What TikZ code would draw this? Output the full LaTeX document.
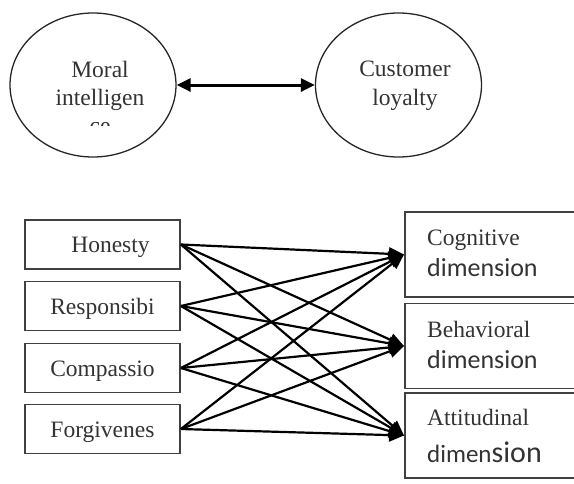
\documentclass[tikz,border=0pt]{standalone}
\usepackage{fontspec}
\setmainfont{Liberation Serif}
\newfontfamily\calibri{Carlito}
\usetikzlibrary{arrows.meta, shapes.geometric, positioning}

\begin{document}
\begin{tikzpicture}[x=1pt, y=-1pt,
  oval/.style={draw=black!85, line width=1.3pt, ellipse, minimum width=166pt, minimum height=144pt, inner sep=0pt},
  factor/.style={draw=black!75, line width=1.8pt, minimum width=155pt, minimum height=49pt, inner sep=0pt, text height=16pt, text depth=0pt},
  dimbox/.style={draw=black!75, line width=1.8pt, minimum width=220pt, minimum height=85pt, anchor=west, inner sep=0pt},
  txt/.style={anchor=base, text=black!80, inner sep=0pt, font=\fontsize{23.5}{28}\selectfont},
  dimtxt/.style={anchor=base west, text=black!80, inner sep=0pt},
  link/.style={line width=2.2pt, -{Triangle[length=15pt, width=13pt]}}
]
\useasboundingbox (0,0) rectangle (574,483);
\clip (0,0) rectangle (574,483);

% top: the two constructs
\node[oval] (moral) at (93,85) {};
\node[oval] (loyal) at (398.5,85) {};
\node[txt] (moralA) at (100,77) {Moral};
\node[txt] (moralB) at (100,105) {intelligen};
\begin{scope}
\clip (0,0) rectangle (574,125);
\node[txt] (moralC) at (100,133) {ce};
\end{scope}
\node[txt] (loyalA) at (405,76) {Customer};
\node[txt] (loyalB) at (405,105) {loyalty};
\draw[line width=3pt, {Triangle[length=14pt, width=13pt]}-{Triangle[length=14pt, width=13pt]}] (moral) -- (loyal);

% bottom left: components of moral intelligence
\node[factor, font=\fontsize{23.5}{28}\selectfont, text=black!80] (hon) at (102.5,244.5) {\hspace*{16pt}Honesty};
\node[factor, font=\fontsize{23.5}{28}\selectfont, text=black!80] (res) at (102.5,306) {Responsibi};
\node[factor, font=\fontsize{23.5}{28}\selectfont, text=black!80] (com) at (102.5,368) {Compassio};
\node[factor, font=\fontsize{23.5}{28}\selectfont, text=black!80] (forg) at (102.5,429) {Forgivenes};

% bottom right: dimensions of loyalty
\node[dimbox] (cog) at (404,254.5) {};
\node[dimbox] (beh) at (404,346) {};
\node[dimbox] (att) at (404,435.5) {};
\node[dimtxt, font=\fontsize{23.5}{28}\selectfont] (cogA) at (427,245) {Cognitive};
\node[dimtxt, font=\calibri\fontsize{26}{30}\selectfont] (cogB) at (427,276) {dimension};
\node[dimtxt, font=\fontsize{23.5}{28}\selectfont] (behA) at (427,337) {Behavioral};
\node[dimtxt, font=\calibri\fontsize{26}{30}\selectfont] (behB) at (427,368) {dimension};
\node[dimtxt, font=\fontsize{23.5}{28}\selectfont] (attA) at (427,425) {Attitudinal};
\node[dimtxt, font=\calibri\fontsize{25}{30}\selectfont] (attB) at (427,462) {dimen{\fontsize{30}{34}\selectfont sion}};

\foreach \src in {hon,res,com,forg}
  \foreach \dst in {cog,beh,att}
    \draw[link] (\src.east) -- (\dst.west);

\end{tikzpicture}
\end{document}
